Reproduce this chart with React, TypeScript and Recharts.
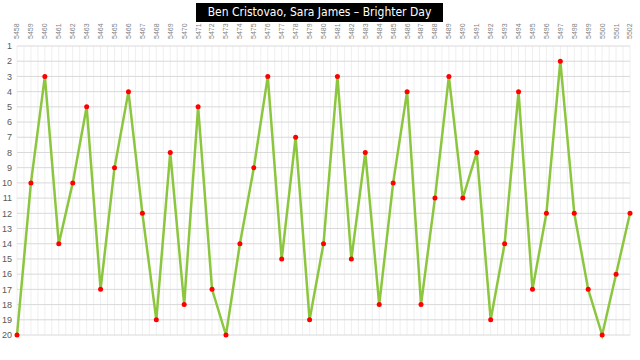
import { CartesianGrid, Line, LineChart, XAxis, YAxis } from 'recharts'

const weeks = [
    '5458', '5459', '5460', '5461', '5462', '5463', '5464', '5465', '5466', '5467',
    '5468', '5469', '5470', '5471', '5472', '5473', '5474', '5475', '5476', '5477',
    '5478', '5479', '5480', '5481', '5482', '5483', '5484', '5485', '5486', '5487',
    '5488', '5489', '5490', '5491', '5492', '5493', '5494', '5495', '5496', '5497',
    '5498', '5499', '5500', '5501', '5502',
]

const positions = [
    20, 10, 3, 14, 10, 5, 17, 9, 4, 12,
    19, 8, 18, 5, 17, 20, 14, 9, 3, 15,
    7, 19, 14, 3, 15, 8, 18, 10, 4, 18,
    11, 3, 11, 8, 19, 14, 4, 17, 12, 2,
    12, 17, 20, 16, 12,
]

const rankTicks = [1, 2, 3, 4, 5, 6, 7, 8, 9, 10, 11, 12, 13, 14, 15, 16, 17, 18, 19, 20]

const title = 'Ben Cristovao, Sara James – Brighter Day'

const data = weeks.map((week, i) => ({ week, position: positions[i] }))

const WeekTick = (props: any) => {
    const { x, y, payload } = props
    return (
        <text
            x={x}
            y={y}
            dy="0.35em"
            transform={`rotate(-90 ${x} ${y})`}
            textAnchor="start"
            fontSize={7}
            fill="#7f7f7f"
            fontFamily="'Liberation Sans', Arial, sans-serif"
        >
            {payload.value}
        </text>
    )
}

const App = () => {
    return (
        <div style={{ position: 'absolute', top: 0, left: 0, width: 640, height: 360, background: '#fff' }}>
            <LineChart width={640} height={360} data={data} margin={{ top: 0, right: 10, left: 0, bottom: 25 }}>
                <CartesianGrid
                    horizontal={false}
                    stroke="#efefef"
                    verticalCoordinatesGenerator={({ offset }: any) =>
                        Array.from({ length: 89 }, (_, i) => offset.left + (i * offset.width) / 88)
                    }
                />
                <CartesianGrid vertical={false} stroke="#d9d9d9" />
                <XAxis
                    dataKey="week"
                    orientation="top"
                    height={46}
                    interval={0}
                    axisLine={false}
                    tickLine={false}
                    tickSize={0}
                    tickMargin={7}
                    tick={<WeekTick />}
                />
                <YAxis
                    reversed
                    domain={[1, 20]}
                    ticks={rankTicks}
                    interval={0}
                    width={17}
                    axisLine={false}
                    tickLine={false}
                    tickSize={0}
                    tickMargin={5}
                    tick={{ fontSize: 9, fill: '#595959', fontFamily: "'Liberation Sans', Arial, sans-serif" }}
                />
                <Line
                    type="linear"
                    dataKey="position"
                    stroke="#8cc63f"
                    strokeWidth={2.5}
                    dot={{ r: 2.5, fill: '#ff0000', stroke: 'none' }}
                    activeDot={false}
                    isAnimationActive={false}
                />
            </LineChart>
            <div
                style={{
                    position: 'absolute',
                    left: 196,
                    top: 3,
                    width: 247,
                    height: 19,
                    background: '#000',
                    color: '#fff',
                    fontFamily: "'DejaVu Sans Condensed', 'DejaVu Sans', sans-serif",
                    fontSize: 12,
                    lineHeight: '19px',
                    textAlign: 'center',
                    whiteSpace: 'nowrap',
                    overflow: 'hidden',
                }}
            >
                {title}
            </div>
        </div>
    )
}

export default App
